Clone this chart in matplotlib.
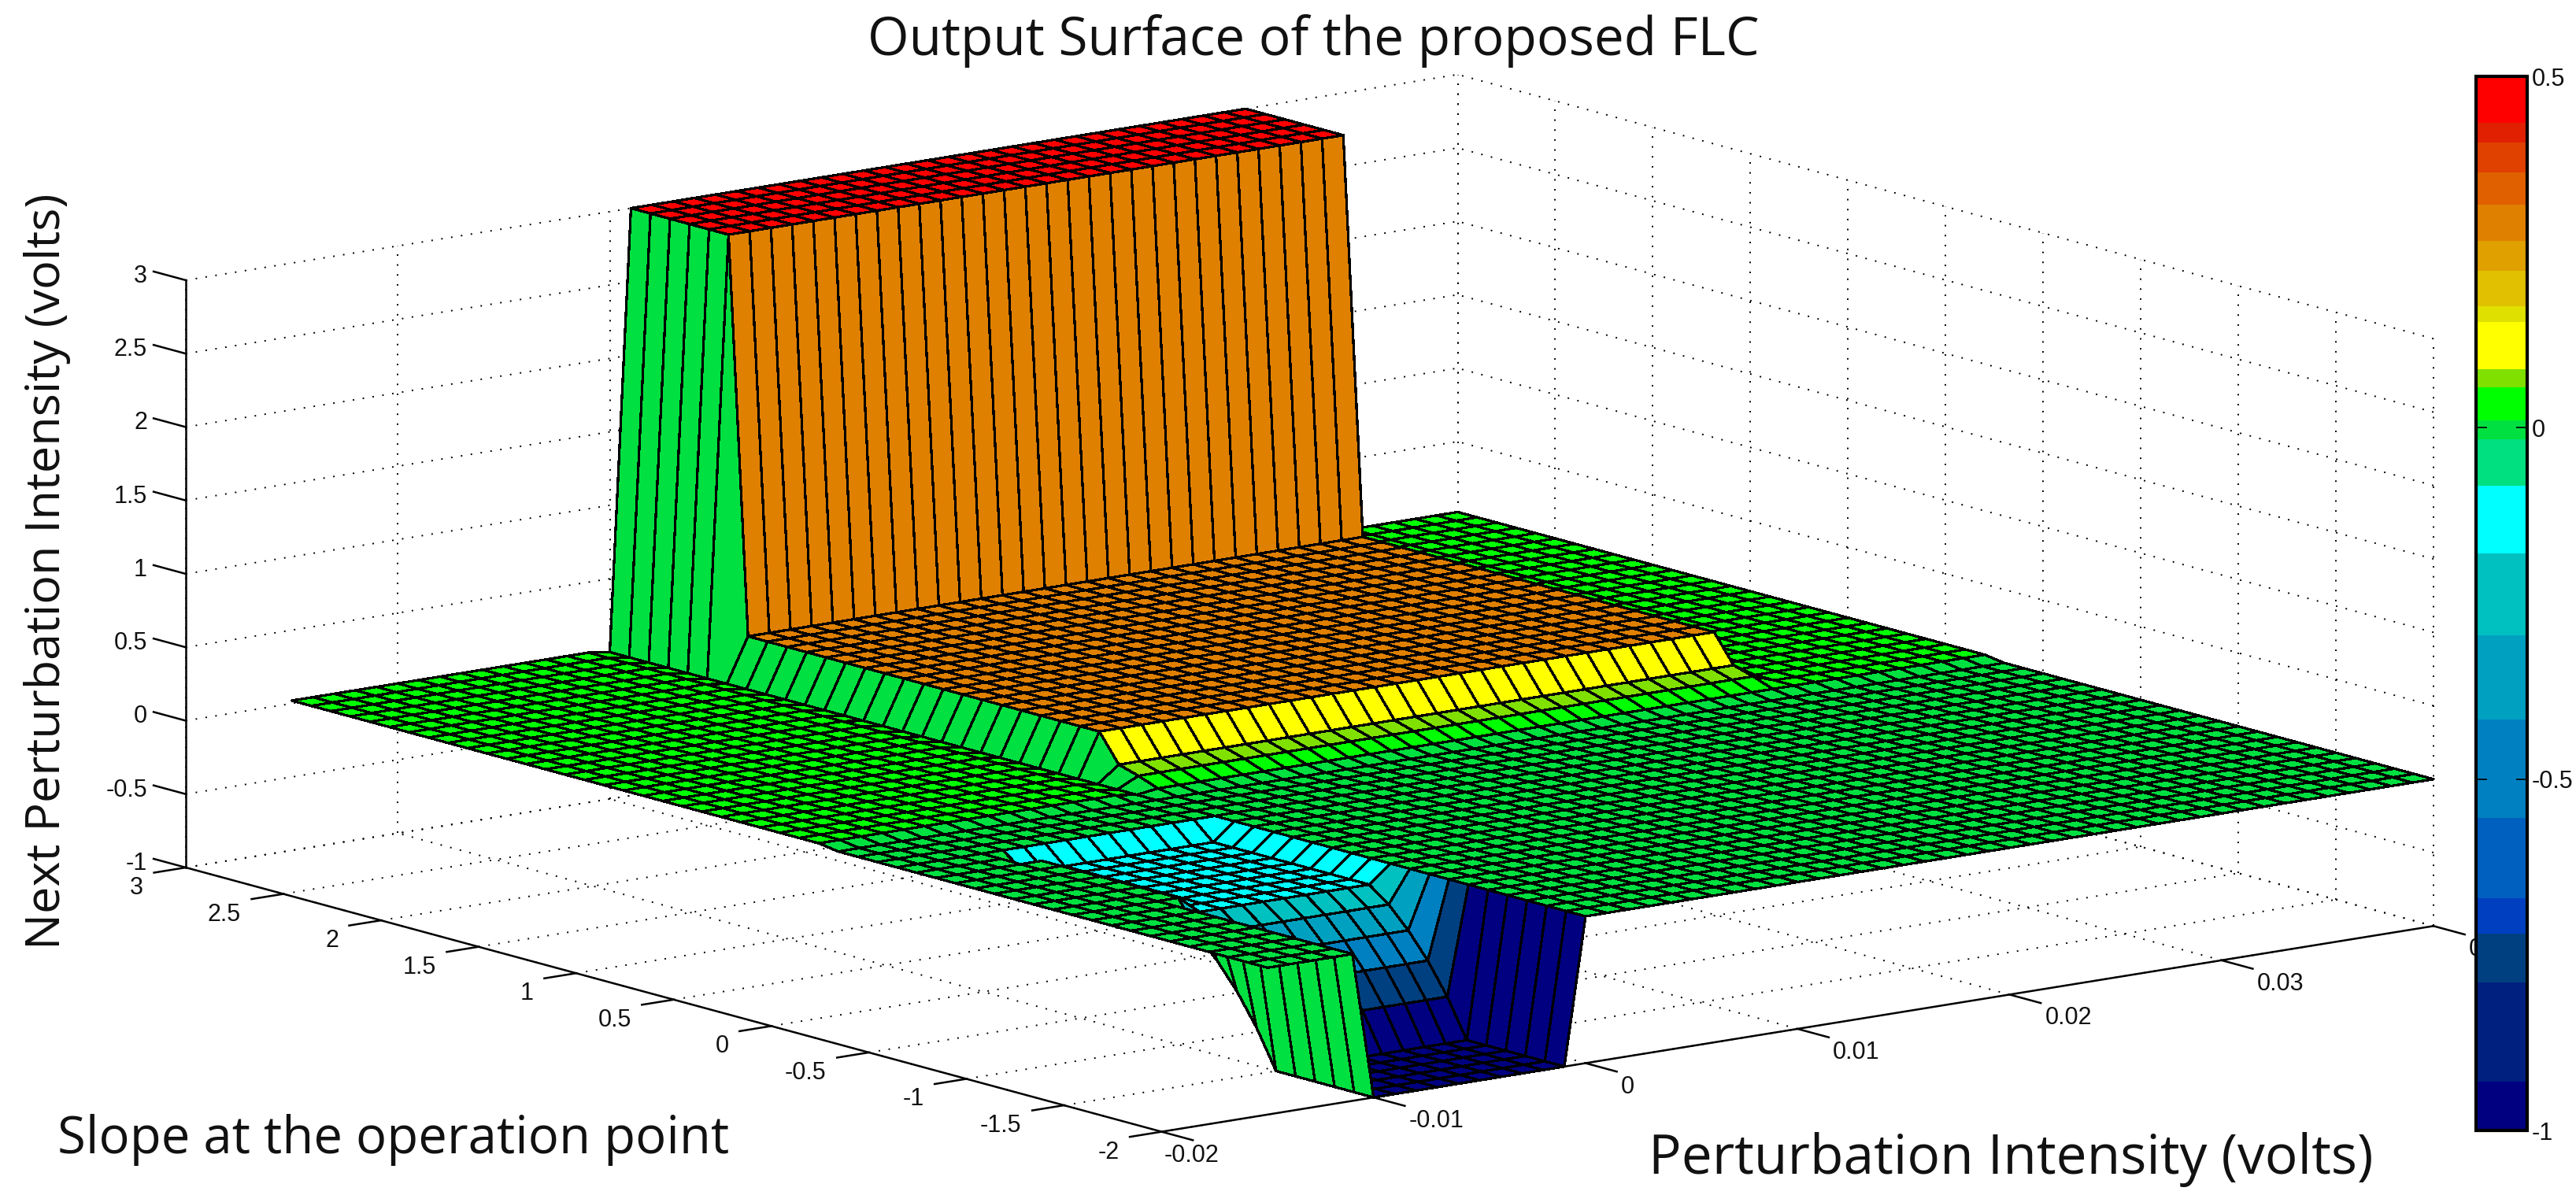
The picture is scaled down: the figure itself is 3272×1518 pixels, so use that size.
import numpy as np
import matplotlib
matplotlib.use('Agg')
import matplotlib.pyplot as plt
from matplotlib.cm import ScalarMappable
from matplotlib.colors import ListedColormap, BoundaryNorm
from mpl_toolkits.mplot3d import proj3d

W, H = 3273, 1518

# ── DATA ─────────────────────────────────────────────────────────────────────

x_ticks = [-0.02, -0.01, 0, 0.01, 0.02, 0.03, 0.04]
y_ticks = [-2, -1.5, -1, -0.5, 0, 0.5, 1, 1.5, 2, 2.5, 3]
z_ticks = [-1, -0.5, 0, 0.5, 1, 1.5, 2, 2.5, 3]
x_tick_labels = ['-0.02', '-0.01', '0', '0.01', '0.02', '0.03', '0.04']
y_tick_labels = ['-2', '-1.5', '-1', '-0.5', '0', '0.5', '1', '1.5', '2', '2.5', '3']
z_tick_labels = ['-1', '-0.5', '0', '0.5', '1', '1.5', '2', '2.5', '3']

# colour bands of the colorbar, bottom to top
band_edges = [-1, -0.931, -0.789, -0.720, -0.669, -0.555, -0.415, -0.295, -0.179,
              -0.083, -0.016, 0.010, 0.057, 0.083, 0.151, 0.173, 0.223, 0.266,
              0.317, 0.363, 0.406, 0.434, 0.5]
band_colors = ['#000080', '#002080', '#004080', '#0040c0', '#0060c0', '#0080c0',
               '#00a0c0', '#00c0c0', '#00ffff', '#00e080', '#00e040', '#00ff00',
               '#80e000', '#ffff00', '#e0e000', '#e0c000', '#e0a000', '#e08000',
               '#e06000', '#e04000', '#e02000', '#ff0000']

# surface mesh
mesh_x = np.linspace(-0.015, 0.04, 56)
mesh_y = np.linspace(-2, 3, 51)

# levels
far_level = 0.02
near_level = 0.0
far_from_y = 0.3
plateau_x = (0.001, 0.03)
plateau_y = (0.6, 2.4)
plateau_z = 0.3
ridge_y = (2.5, 3)
ridge_z = 3
front_rows_y = [0.5, 0.4]
front_rows_z = [0.11, 0.07]
pit_flat_x = (-0.009, -0.001)
pit_flat_y = (-1.0, -0.2)
pit_flat_z = -0.12
pit_corner = (-0.01, -0.2)
pit_corner_z = -0.1
pit_x = (-0.01, -0.001)
pit_rows_y = [-1.1, -1.2, -1.3, -1.4]
pit_rows_z = [-0.22, -0.36, -0.53, -0.74]
pit_floor_y = (-2, -1.5)
pit_floor_z = -1

# ── SURFACE ──────────────────────────────────────────────────────────────────

def ix(v):
    return int(round((v - mesh_x[0]) / 0.001))

def iy(v):
    return int(round((v - mesh_y[0]) / 0.1))

Z = np.full((len(mesh_y), len(mesh_x)), near_level)

def fill(xr, yr, z):
    Z[iy(yr[0]):iy(yr[1]) + 1, ix(xr[0]):ix(xr[1]) + 1] = z

fill((mesh_x[0], mesh_x[-1]), (far_from_y, 3), far_level)
fill((0, 0), (far_from_y, 3), near_level)
fill(plateau_x, plateau_y, plateau_z)
fill(plateau_x, ridge_y, ridge_z)
for ry, rz in zip(front_rows_y, front_rows_z):
    fill(plateau_x, (ry, ry), rz)
fill(pit_flat_x, pit_flat_y, pit_flat_z)
Z[iy(pit_corner[1]), ix(pit_corner[0])] = pit_corner_z
for ry, rz in zip(pit_rows_y, pit_rows_z):
    fill(pit_x, (ry, ry), rz)
fill(pit_x, pit_floor_y, pit_floor_z)

cmap = ListedColormap(band_colors)
norm = BoundaryNorm(band_edges, cmap.N, clip=True)

fig = plt.figure(figsize=(W / 100, H / 100), dpi=100, facecolor='white')
ax = fig.add_subplot(projection='3d', computed_zorder=False)
ax.set_proj_type('ortho')
ax.view_init(elev=12.08, azim=-127.7)
ax.set_box_aspect((2042, 2027, 763), zoom=0.7)
ax.set_axis_off()

X, Y = np.meshgrid(mesh_x, mesh_y)
surf = ax.plot_surface(X, Y, Z, facecolors=cmap(norm(Z)), rstride=1, cstride=1,
                       shade=False, antialiased=False, zorder=2)
surf.set_edgecolor('k')
surf.set_linewidth(1.6)

# ── GRID AND AXES ────────────────────────────────────────────────────────────

x0, x1 = x_ticks[0], x_ticks[-1]
y0, y1 = y_ticks[0], y_ticks[-1]
z0, z1 = z_ticks[0], z_ticks[-1]

grid = dict(color='k', lw=1.4, linestyle=(0, (1, 5.5)), zorder=1)
for x in x_ticks:
    ax.plot([x, x], [y1, y1], [z0, z1], **grid)
    ax.plot([x, x], [y0, y1], [z0, z0], **grid)
for y in y_ticks:
    ax.plot([x1, x1], [y, y], [z0, z1], **grid)
    ax.plot([x0, x1], [y, y], [z0, z0], **grid)
for z in z_ticks:
    ax.plot([x0, x1], [y1, y1], [z, z], **grid)
    ax.plot([x1, x1], [y0, y1], [z, z], **grid)

axis = dict(color='k', lw=1.8, zorder=3)
ax.plot([x0, x1], [y0, y0], [z0, z0], **axis)
ax.plot([x0, x0], [y0, y1], [z0, z0], **axis)
ax.plot([x0, x0], [y1, y1], [z0, z1], **axis)
for x in x_ticks:
    ax.plot([x, x], [y0, y0 - 0.16], [z0, z0], **axis)
for y in y_ticks:
    ax.plot([x0, x0 - 0.0015], [y, y], [z0, z0], **axis)
for z in z_ticks:
    ax.plot([x0, x0], [y1, y1 + 0.165], [z, z], **axis)

ax.set_xlim(x0, x1)
ax.set_ylim(y0, y1)
ax.set_zlim(z0, z1)

# put the box where it is in the picture
def corner_px(x, y, z):
    px, py, _ = proj3d.proj_transform(x, y, z, ax.get_proj())
    return ax.transData.transform((px, py))

def place(side, cx, cy):
    ax.set_position([(cx - side / 2) / W, (cy - side / 2) / H, side / W, side / H])
    ax.apply_aspect()

side, cx, cy = 3000.0, W / 2, H / 2
for _ in range(3):
    place(side, cx, cy)
    left = corner_px(x0, y1, z0)
    right = corner_px(x1, y0, z0)
    side *= (3091 - 236) / (right[0] - left[0])
    place(side, cx, cy)
    left = corner_px(x0, y1, z0)
    cx += 236 - left[0]
    cy += (H - 1102) - left[1]
place(side, cx, cy)

# tick labels, shifted in pixels from the foot of their tick
tick_font = dict(family='Liberation Sans', fontsize=22, color='#111111', va='center')

def tick_label(point, dx, dy, text, ha):
    px, py = corner_px(*point)
    fig.text((px + dx) / W, (py - dy) / H, text, ha=ha, **tick_font)

for x, lab in zip(x_ticks, x_tick_labels):
    tick_label((x, y0, z0), 3 if lab == '-0.02' else 45, 30, lab, 'left')
for y, lab in zip(y_ticks, y_tick_labels):
    tick_label((x0, y, z0), -54, 26, lab, 'right')
for z, lab in zip(z_ticks, z_tick_labels):
    tick_label((x0, y1, z), -49, -5, lab, 'right')

# ── COLORBAR ─────────────────────────────────────────────────────────────────

cax = fig.add_axes([3145 / W, 1 - 1436 / H, 65 / W, 1339 / H], zorder=5)
cb = fig.colorbar(ScalarMappable(norm=norm, cmap=cmap), cax=cax, spacing='proportional')
cb.set_ticks([-1, -0.5, 0, 0.5], labels=['-1', '-0.5', '0', '0.5'])
cb.minorticks_off()
cax.tick_params(direction='in', length=10, width=1.2, left=True, right=True, pad=4,
                labelsize=22, labelfontfamily='Liberation Sans', labelcolor='#111111')
cb.outline.set_linewidth(3)

# ── TEXT ─────────────────────────────────────────────────────────────────────

font = dict(family='Open Sans', color='#111111')
fig.text(1668 / W, 1 - 52 / H, 'Output Surface of the proposed FLC', ha='center',
         va='center', fontsize=48.7, **font)
fig.text(60 / W, 1 - 726 / H, 'Next Perturbation Intensity (volts)', rotation=90,
         ha='center', va='center', fontsize=44, **font)
fig.text(73 / W, 1 - 1448 / H, 'Slope at the operation point', ha='left',
         va='center', fontsize=47, **font)
fig.text(2094 / W, 1 - 1473 / H, 'Perturbation Intensity (volts)', ha='left',
         va='center', fontsize=50, **font)

fig.savefig('out.png', dpi=100)
